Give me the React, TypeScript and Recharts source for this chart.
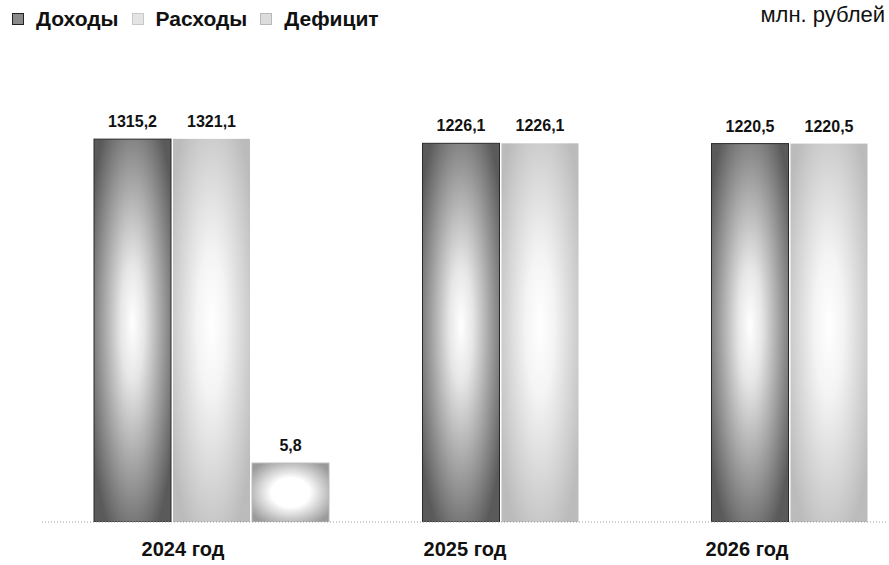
import React from 'react';
import { BarChart, Bar, XAxis, YAxis } from 'recharts';

const years = ['2024 год', '2025 год', '2026 год'];
const income = [1315.2, 1226.1, 1220.5];
const expense = [1321.1, 1226.1, 1220.5];
const deficit: Array<number | null> = [5.8, null, null];

const seriesNames = ['Доходы', 'Расходы', 'Дефицит'];
const unitLabel = 'млн. рублей';

const data = years.map((year, i) => ({
  year,
  income: income[i],
  expense: expense[i],
  deficit: deficit[i],
}));

const BAR_GAP = 2;
const FONT = '"Liberation Sans", Arial, sans-serif';

const fmt = (v: number) => v.toFixed(1).replace('.', ',');

// Excel-like look: bars of a category sit centered even when the deficit slot is empty
const makeShape = (gradId: string, stroke: string) => (props: any) => {
  const { x, y, width, height, payload, value } = props;
  if (value == null || height == null || isNaN(height)) return <g />;
  const dx = payload.deficit == null ? (width + BAR_GAP) / 2 : 0;
  return (
    <g>
      <rect
        x={x + dx}
        y={y}
        width={width}
        height={height}
        fill={`url(#${gradId})`}
        stroke={stroke}
        strokeWidth={1}
      />
      <text
        x={x + dx + width / 2}
        y={y - 12}
        textAnchor="middle"
        fontSize={16}
        fontWeight="bold"
        fill="#111"
        fontFamily={FONT}
      >
        {fmt(value)}
      </text>
    </g>
  );
};

const legendIcons = [
  { fill: '#8a8a8a', stroke: '#222' },
  { fill: '#e4e4e4', stroke: '#c8c8c8' },
  { fill: '#dcdcdc', stroke: '#b8b8b8' },
];

function ChartLegend() {
  return (
    <div
      style={{
        position: 'absolute',
        left: 12,
        top: 7,
        display: 'flex',
        alignItems: 'center',
        fontFamily: FONT,
      }}
    >
      {seriesNames.map((name, i) => (
        <div key={name} style={{ display: 'flex', alignItems: 'center', marginRight: 13 }}>
          <span
            style={{
              display: 'inline-block',
              width: 10,
              height: 10,
              background: legendIcons[i].fill,
              border: `1px solid ${legendIcons[i].stroke}`,
              marginRight: 12,
            }}
          />
          <span style={{ fontSize: 21, fontWeight: 'bold', color: '#111' }}>{name}</span>
        </div>
      ))}
    </div>
  );
}

export default function App() {
  return (
    <div
      style={{
        position: 'fixed',
        left: 0,
        top: 0,
        width: 889,
        height: 565,
        background: '#fff',
        fontFamily: FONT,
      }}
    >
      <BarChart
        width={889}
        height={565}
        data={data}
        margin={{ top: 80, right: 1, bottom: 0, left: 42 }}
        barGap={BAR_GAP}
        barSize={77}
      >
        <defs>
          <radialGradient id="g-income" cx="50%" cy="48%" r="62%">
            <stop offset="0%" stopColor="#ffffff" />
            <stop offset="25%" stopColor="#e6e6e6" />
            <stop offset="100%" stopColor="#5a5a5a" />
          </radialGradient>
          <radialGradient id="g-expense" cx="50%" cy="48%" r="62%">
            <stop offset="0%" stopColor="#ffffff" />
            <stop offset="30%" stopColor="#f4f4f4" />
            <stop offset="100%" stopColor="#bbbbbb" />
          </radialGradient>
          <radialGradient id="g-deficit" cx="50%" cy="50%" r="62%">
            <stop offset="0%" stopColor="#ffffff" />
            <stop offset="40%" stopColor="#ffffff" />
            <stop offset="100%" stopColor="#9a9a9a" />
          </radialGradient>
        </defs>
        <XAxis xAxisId="bars" dataKey="year" hide height={0} padding={{ left: 25, right: -46 }} />
        <XAxis
          xAxisId="labels"
          dataKey="year"
          height={43}
          tickLine={false}
          tickSize={0}
          tickMargin={20}
          axisLine={{ stroke: '#9a9a9a', strokeDasharray: '1 2' }}
          tick={{ fontSize: 20, fontWeight: 'bold', fill: '#111', fontFamily: FONT }}
        />
        <YAxis
          hide
          type="number"
          scale="log"
          domain={[2.16, 3540]}
          allowDataOverflow
        />
        <Bar
          xAxisId="bars"
          dataKey="income"
          name={seriesNames[0]}
          isAnimationActive={false}
          shape={makeShape('g-income', '#2a2a2a')}
        />
        <Bar
          xAxisId="bars"
          dataKey="expense"
          name={seriesNames[1]}
          isAnimationActive={false}
          shape={makeShape('g-expense', 'none')}
        />
        <Bar
          xAxisId="bars"
          dataKey="deficit"
          name={seriesNames[2]}
          isAnimationActive={false}
          shape={makeShape('g-deficit', '#bbbbbb')}
        />
      </BarChart>
      <ChartLegend />
      <div
        style={{
          position: 'absolute',
          right: 4,
          top: 2,
          fontSize: 22,
          color: '#111',
          fontFamily: FONT,
        }}
      >
        {unitLabel}
      </div>
    </div>
  );
}
